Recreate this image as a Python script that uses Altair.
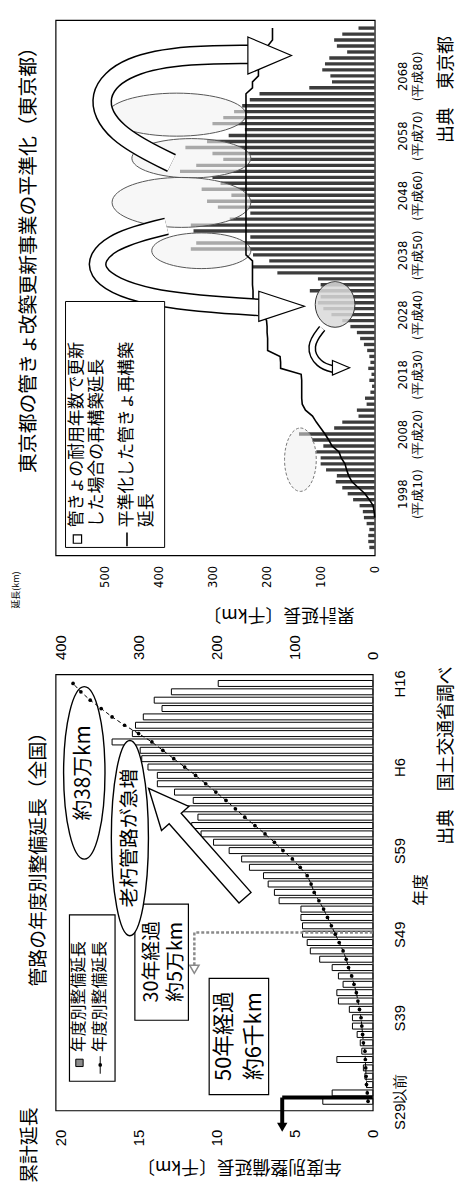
import altair as alt
import pandas as pd

JP = "Noto Sans CJK JP"
NUM = "Liberation Sans"
NARROW = "DejaVu Sans Condensed, Liberation Sans, sans-serif"

# ---------------- national chart data (管路の年度別整備延長) ----------------
nat_years = list(range(1954, 2005))          # 1954 = S29以前 ... 2004 = H16
nat_yearly = [3.2, 2.6, 0.4, 0.5, 0.6, 2.3, 0.7, 0.8, 1.0, 1.3,
              1.3, 1.5, 2.2, 2.3, 1.9, 2.2, 2.6, 3.4, 4.0, 4.2,
              4.5, 4.5, 4.6, 4.6, 6.0, 6.3, 6.7, 7.0, 7.9, 8.4,
              9.2, 10.2, 11.0, 11.6, 11.2, 12.3, 11.5, 12.7, 13.8, 13.8,
              14.4, 14.8, 14.9, 16.7, 15.4, 15.2, 14.7, 13.5, 14.0, 12.9,
              9.9]
nat_cum = [6, 7, 8, 8.5, 9, 9.5, 10, 12, 13, 14,
           15, 17, 19, 21, 24, 27, 31, 34, 38, 43,
           48, 53, 58, 63, 69, 75, 79, 84, 93, 103,
           115, 126, 138, 151, 164, 176, 188, 201, 214, 227,
           241, 255, 269, 283, 300, 318, 334, 348, 362, 374,
           384]
nat_tick_years = [1954, 1964, 1974, 1984, 1994, 2004]
nat_tick_labels = ["S29以前", "S39", "S49", "S59", "H6", "H16"]
nat_value_ticks = [0, 5, 10, 15, 20]
nat_cum_ticks = [0, 100, 200, 300, 400]

# ---------------- Tokyo chart data (管きょ改築更新事業の平準化) ----------------
tk_years = list(range(1989, 2077))
tk_renew = [10, 12, 12, 10, 15, 20, 22, 28, 40, 50,
            60, 72, 70, 90, 100, 100, 108, 95, 116, 140,
            75, 60, 30, 33, 15, 18, 8, 5, 10, 6,
            12, 8, 10, 14, 20, 27, 33, 45, 60, 80,
            95, 105, 100, 120, 100, 105, 180, 225, 195, 225,
            340, 330, 230, 335, 340, 268, 230, 290, 310, 265,
            320, 285, 300, 360, 330, 280, 300, 350, 310, 270,
            240, 300, 280, 260, 245, 231, 213, 121, 79, 82,
            97, 92, 84, 51, 70, 75, 60, 30]
tk_line_years = list(range(1994, 2077))
tk_line = [0, 1, 3, 10, 18, 30, 42, 48, 52, 55,
           62, 66, 79, 85, 92, 100, 108, 115, 128, 134,
           135, 135, 135, 135, 136, 174, 174, 175, 198, 198,
           198, 199, 199, 200, 207, 225, 225, 225, 225, 226,
           226, 226, 226, 226, 238, 238, 238, 238, 238, 238,
           238, 238, 238, 238, 238, 238, 238, 238, 238, 238,
           238, 238, 238, 238, 238, 238, 238, 238, 238, 238,
           238, 238, 226, 226, 215, 215, 207, 207, 198, 198,
           189, 189, 189]
tk_tick_years = [1998, 2008, 2018, 2028, 2038, 2048, 2058, 2068]
tk_tick_line1 = ["1998", "2008", "2018", "2028", "2038", "2048", "2058", "2068"]
tk_tick_line2 = ["(平成10)", "(平成20)", "(平成30)", "(平成40)", "(平成50)",
                 "(平成60)", "(平成70)", "(平成80)"]
tk_value_ticks = [0, 100, 200, 300, 400, 500]

assert len(nat_yearly) == len(nat_years) == len(nat_cum)
assert len(tk_renew) == len(tk_years)
assert len(tk_line) == len(tk_line_years)

# symbol paths (unit box -1..1)
K = 0.5523


def ellipse_path(rx, ry=1.0):
    kx, ky = K * rx, K * ry
    return (f"M0,-{ry} C{kx:.3f},-{ry} {rx},-{ky:.3f} {rx},0 C{rx},{ky:.3f} {kx:.3f},{ry} 0,{ry} "
            f"C-{kx:.3f},{ry} -{rx},{ky:.3f} -{rx},0 C-{rx},-{ky:.3f} -{kx:.3f},-{ry} 0,-{ry} Z")


ARROW = "M0,-1 L0.25,-0.45 L0.11,-0.45 L0.11,1 L-0.11,1 L-0.11,-0.45 L-0.25,-0.45 Z"
HEAD_R = "M-1,-0.85 L1,0 L-1,0.85 Z"
HEAD_R2 = "M-1,-0.66 L1,0 L-1,0.66 Z"

# ---------------- scales & axes ----------------
NAT_W, NAT_H = 320, 440
TK_W, TK_H = 322, 540
nat_x = alt.Scale(domain=[0, 20.32], reverse=True, nice=False, zero=True)
nat_x2 = alt.Scale(domain=[0, 406.4], reverse=True, nice=False, zero=True)
nat_y = alt.Scale(domain=[1953.5, 2004.5], nice=False, zero=False)
tk_x = alt.Scale(domain=[0, 590], reverse=True, nice=False, zero=True)
tk_y = alt.Scale(domain=[1988.5, 2076.5], nice=False, zero=False)

tk_label_expr = ("[" + ",".join(f"['{a}','{b}']" for a, b in zip(tk_tick_line1, tk_tick_line2))
                 + "][indexof([" + ",".join(str(v) for v in tk_tick_years) + "], datum.value)]")
nat_label_expr = ("[" + ",".join(f"'{l}'" for l in nat_tick_labels) + "][indexof(["
                  + ",".join(str(v) for v in nat_tick_years) + "], datum.value)]")

tk_x_axis = alt.Axis(orient="bottom", values=tk_value_ticks, labelAngle=270, labelAlign="right",
                     labelBaseline="middle", labelPadding=10, ticks=False, grid=False, domain=False,
                     labelFont=NARROW, labelFontSize=13, labelColor="black", labelFlush=False,
                     labelOverlap=False, title=None)
tk_y_axis = alt.Axis(orient="right", values=tk_tick_years, labelExpr=tk_label_expr, labelAngle=270,
                     labelAlign="center", labelBaseline="top", labelPadding=22, ticks=False,
                     grid=False, domain=False, labelFont=NARROW, labelFontSize=13,
                     labelLineHeight=15, labelColor="black", labelFlush=False,
                     labelOverlap=False, title=None)
nat_x_axis = alt.Axis(orient="bottom", values=nat_value_ticks, labelAngle=270, labelAlign="right",
                      labelBaseline="middle", labelPadding=19, ticks=False, grid=False, domain=False,
                      labelFont=NUM, labelFontSize=15, labelColor="black", labelFlush=False,
                      labelOverlap=False, title="年度別整備延長〔千km〕", titleAngle=180,
                      titleAlign="center", titleBaseline="middle", titleX=185, titleY=56,
                      titleFont=JP, titleFontSize=18, titleFontWeight="normal", titleColor="black")
nat_x2_axis = alt.Axis(orient="top", values=nat_cum_ticks, labelAngle=270, labelAlign="left",
                       labelBaseline="middle", labelPadding=15, ticks=False, grid=False, domain=False,
                       labelFont=NUM, labelFontSize=15, labelColor="black", labelFlush=False,
                       labelOverlap=False, title="累計延長〔千km〕", titleAngle=180,
                       titleAlign="center", titleBaseline="middle", titleX=225, titleY=-61,
                       titleFont=JP, titleFontSize=18, titleFontWeight="normal", titleColor="black")
nat_y_axis = alt.Axis(orient="right", values=nat_tick_years, labelExpr=nat_label_expr, labelAngle=270,
                      labelAlign="center", labelBaseline="top", labelPadding=20, ticks=False,
                      grid=False, domain=False, labelFont=NUM, labelFontSize=15, labelColor="black",
                      labelFlush=False, labelOverlap=False, title="年度", titleAngle=270,
                      titleAlign="center", titleBaseline="middle", titleX=48, titleY=217,
                      titleFont=JP, titleFontSize=16, titleFontWeight="normal", titleColor="black")


def nx(f):
    return alt.X(f, type="quantitative", scale=nat_x, axis=nat_x_axis)


def ny(f):
    return alt.Y(f, type="quantitative", scale=nat_y, axis=nat_y_axis)


def tx(f):
    return alt.X(f, type="quantitative", scale=tk_x, axis=tk_x_axis)


def ty(f):
    return alt.Y(f, type="quantitative", scale=tk_y, axis=tk_y_axis)


def label(text, px, py, size, chart_font=JP):
    return alt.Chart(pd.DataFrame({"t": [text]})).mark_text(
        angle=270, align="center", baseline="middle", font=chart_font, fontSize=size, color="black").encode(
        x=alt.value(px), y=alt.value(py), text="t:N")


def hollow_curve(xs, ys, width):
    """A hollow (outlined) curved band through the given annotation points (Tokyo data space)."""
    df = pd.DataFrame({"x": xs, "y": ys, "o": list(range(len(xs)))})
    outer = alt.Chart(df).mark_line(interpolate="basis", color="black", strokeWidth=width,
                                    strokeCap="butt").encode(x=tx("x"), y=ty("y"), order="o:Q")
    inner = alt.Chart(df).mark_line(interpolate="basis", color="white", strokeWidth=width - 3,
                                    strokeCap="butt").encode(x=tx("x"), y=ty("y"), order="o:Q")
    return [outer, inner]


# ================= Tokyo panel =================
tk_df = pd.DataFrame({"year": tk_years, "renew": tk_renew})
tk_line_df = pd.DataFrame({"year": tk_line_years, "level": tk_line})

tk_bars = alt.Chart(tk_df).mark_bar(orient="horizontal", size=3.4, fill="#3c3c3c").encode(
    x=tx("renew"), y=ty("year"))

tk_level = alt.Chart(tk_line_df).mark_line(color="black", strokeWidth=1.6).encode(
    x=tx("level"), y=ty("year"), order="year:Q")

# grey ellipses marking the peaks that are shifted
tk_ell = alt.Chart(pd.DataFrame({
    "x": [366.4, 339.0, 357.3, 320.6],
    "y": [2061.5, 2054.2, 2046.8, 2038.7],
    "shape": [ellipse_path(1, 0.31), ellipse_path(1, 0.33), ellipse_path(1, 0.36), ellipse_path(1, 0.36)],
    "size": [19600, 14400, 19600, 10000]})).mark_point(
    filled=True, fill="#f2f2f2", fillOpacity=0.6, stroke="#555555", strokeWidth=1, opacity=1).encode(
    x=tx("x"), y=ty("y"), shape=alt.Shape("shape:N", scale=None), size=alt.Size("size:Q", scale=None))

tk_circle = alt.Chart(pd.DataFrame({"x": [73.3], "y": [2029.7]})).mark_point(
    shape=ellipse_path(0.87, 1.0), size=2116, filled=True, fill="#d9d9d9", fillOpacity=0.85,
    stroke="#333333", strokeWidth=1, opacity=1).encode(x=tx("x"), y=ty("y"))

tk_dash_ell = alt.Chart(pd.DataFrame({"x": [137.4], "y": [2003.7]})).mark_point(
    shape=ellipse_path(0.5, 1.0), size=4096, filled=True, fill="#eeeeee", fillOpacity=0.5,
    stroke="#777777", strokeWidth=1, strokeDash=[3, 2], opacity=1).encode(x=tx("x"), y=ty("y"))

arrow1 = hollow_curve([375.6, 485.5, 518.5, 458.0, 339.0, 229.0],
                      [2053.4, 2058.3, 2064.8, 2070.0, 2071.6, 2071.6], 20)
arrow2 = hollow_curve([384.8, 494.7, 531.3, 430.6, 214.4],
                      [2042.8, 2040.3, 2035.1, 2030.5, 2029.2], 18)
arrow3 = hollow_curve([97.1, 122.8, 104.4, 73.3],
                      [2025.7, 2022.7, 2019.5, 2018.8], 8)

tk_heads = alt.Chart(pd.DataFrame({
    "x": [194.2, 172.2, 62.3], "y": [2071.4, 2029.4, 2019.1],
    "shape": [HEAD_R, HEAD_R2, HEAD_R], "size": [1936, 2116, 300]})).mark_point(
    filled=True, fill="white", stroke="black", strokeWidth=1.2, opacity=1).encode(
    x=tx("x"), y=ty("y"), shape=alt.Shape("shape:N", scale=None), size=alt.Size("size:Q", scale=None))

tk_leg_box = alt.Chart(pd.DataFrame({"x1": [571.6], "x2": [388.4], "y1": [2030.2], "y2": [1989.0]})).mark_rect(
    fill="white", stroke="black", strokeWidth=1).encode(x=tx("x1"), x2="x2", y=ty("y1"), y2="y2")

tk_leg_text = alt.Chart(pd.DataFrame({
    "x": [549.6, 513.0, 458.0, 421.5],
    "y": [1992.4, 1992.4, 1992.4, 1992.4],
    "t": ["管きょの耐用年数で更新", "した場合の再構築延長", "平準化した管きょ再構築", "延長"],
})).mark_text(angle=270, align="left", baseline="middle", font=JP, fontSize=17, color="black").encode(
    x=tx("x"), y=ty("y"), text="t:N")

tk_leg_sq = alt.Chart(pd.DataFrame({"x": [549.6], "y": [1990.4]})).mark_square(
    size=70, filled=True, fill="white", stroke="black", strokeWidth=1.2, opacity=1).encode(x=tx("x"), y=ty("y"))

tk_leg_ln = alt.Chart(pd.DataFrame({"x": [458.0], "y1": [1991.5], "y2": [1989.2]})).mark_rule(
    color="black", strokeWidth=1.6).encode(x=tx("x"), y=ty("y1"), y2="y2")

tokyo = alt.layer(
    tk_bars, tk_ell, tk_circle, tk_dash_ell, tk_level, *arrow1, *arrow2, *arrow3, tk_heads,
    tk_leg_box, tk_leg_text, tk_leg_sq, tk_leg_ln,
    label("出典　東京都", 395, 70, 18),
    label("延長(km)", -40, 575, 9),
    label("東京都の管きょ改築更新事業の平準化（東京都）", -27, 237, 20),
).properties(width=TK_W, height=TK_H)

# ================= National panel =================
nat_df = pd.DataFrame({"year": nat_years, "yearly": nat_yearly, "cum": nat_cum})

nat_bars = alt.Chart(nat_df).mark_bar(orient="horizontal", size=6, fill="white", stroke="black",
                                      strokeWidth=1).encode(x=nx("yearly"), y=ny("year"))

nat_cum_line = alt.Chart(nat_df).mark_line(
    color="black", strokeWidth=1, strokeDash=[4, 3],
    point=alt.OverlayMarkDef(filled=True, size=14, color="black")).encode(
    x=alt.X("cum:Q", scale=nat_x2, axis=nat_x2_axis), y=ny("year"), order="year:Q")

nat_boxes = alt.Chart(pd.DataFrame({
    "x1": [15.24, 10.48, 19.43], "x2": [11.81, 6.67, 16.51],
    "y1": [1977.6, 1968.7, 1976.3], "y2": [1963.7, 1954.8, 1956.4]})).mark_rect(
    fill="white", stroke="black", strokeWidth=1.2).encode(x=nx("x1"), x2="x2", y=ny("y1"), y2="y2")

nat_dash = alt.Chart(pd.DataFrame({
    "x1": [0.0, 11.43], "x2": [11.43, 11.43], "y1": [1974.2, 1974.2], "y2": [1974.2, 1970.2]})).mark_rule(
    color="#8a8a8a", strokeWidth=2.5, strokeDash=[3, 2]).encode(x=nx("x1"), x2="x2", y=ny("y1"), y2="y2")
nat_dash_head = alt.Chart(pd.DataFrame({"x": [11.43], "y": [1969.8]})).mark_point(
    shape="triangle-down", size=90, filled=True, fill="white", stroke="#8a8a8a", strokeWidth=1.5,
    opacity=1).encode(x=nx("x"), y=ny("y"))
nat_thick = alt.Chart(pd.DataFrame({
    "x1": [0.0, 5.8], "x2": [5.8, 5.8], "y1": [1954.45, 1954.45], "y2": [1954.45, 1951.2]})).mark_rule(
    color="black", strokeWidth=4).encode(x=nx("x1"), x2="x2", y=ny("y1"), y2="y2")
nat_thick_head = alt.Chart(pd.DataFrame({"x": [5.8], "y": [1950.9]})).mark_point(
    shape="triangle-down", size=110, filled=True, color="black", opacity=1).encode(x=nx("x"), y=ny("y"))

nat_ell = alt.Chart(pd.DataFrame({
    "x": [18.48, 15.56], "y": [1993.3, 1985.5],
    "shape": [ellipse_path(0.24), ellipse_path(0.19)], "size": [30276, 38809]})).mark_point(
    filled=True, fill="white", stroke="black", strokeWidth=1.4, opacity=1).encode(
    x=nx("x"), y=ny("y"), shape=alt.Shape("shape:N", scale=None), size=alt.Size("size:Q", scale=None))

nat_arrow = alt.Chart(pd.DataFrame({"x": [11.27], "y": [1984.9], "ang": [318.6]})).mark_point(
    shape=ARROW, size=21600, filled=True, fill="white", stroke="black", strokeWidth=1.4, opacity=1).encode(
    x=nx("x"), y=ny("y"), angle=alt.Angle("ang:Q", scale=None))

nat_text = alt.Chart(pd.DataFrame({
    "x": [14.16, 12.57, 9.52, 7.62, 18.48, 15.56],
    "y": [1970.7, 1970.7, 1961.8, 1961.8, 1993.3, 1985.5],
    "t": ["30年経過", "約5万km", "50年経過", "約6千km", "約38万km", "老朽管路が急増"],
    "fs": [20, 20, 22, 22, 21, 20]})).mark_text(
    angle=270, align="center", baseline="middle", font=JP, color="black").encode(
    x=nx("x"), y=ny("y"), text="t:N", size=alt.Size("fs:Q", scale=None))

nat_leg_text = alt.Chart(pd.DataFrame({
    "x": [18.79, 17.46], "y": [1959.9, 1959.9], "t": ["年度別整備延長", "年度別整備延長"]})).mark_text(
    angle=270, align="left", baseline="middle", font=JP, fontSize=16, color="black").encode(
    x=nx("x"), y=ny("y"), text="t:N")
nat_leg_sq = alt.Chart(pd.DataFrame({"x": [18.79], "y": [1958.6]})).mark_square(
    size=55, filled=True, fill="#8c8c8c", stroke="black", strokeWidth=1, opacity=1).encode(x=nx("x"), y=ny("y"))
nat_leg_ln = alt.Chart(pd.DataFrame({"x": [17.46], "y1": [1959.4], "y2": [1957.3]})).mark_rule(
    color="black", strokeWidth=1).encode(x=nx("x"), y=ny("y1"), y2="y2")
nat_leg_pt = alt.Chart(pd.DataFrame({"x": [17.46], "y": [1958.35]})).mark_point(
    shape="circle", size=14, filled=True, color="black", opacity=1).encode(x=nx("x"), y=ny("y"))

nat_inner = alt.layer(
    nat_bars, nat_dash, nat_dash_head, nat_thick, nat_thick_head, nat_boxes,
    nat_arrow, nat_ell, nat_text, nat_leg_text, nat_leg_sq, nat_leg_ln, nat_leg_pt,
    label("出典　国土交通省調べ", 395, 82, 18),
    label("累計延長", -26, 475, 19),
    label("管路の年度別整備延長（全国）", -17, 182, 19),
)

national = alt.layer(nat_inner, nat_cum_line).resolve_scale(x="independent").properties(
    width=NAT_W, height=NAT_H)

chart = alt.vconcat(tokyo, national, spacing=120, bounds="flush").properties(
    padding={"left": 3, "top": 0, "right": 0, "bottom": 0},
    background="white",
).configure_view(stroke="black", strokeWidth=1.2).configure_axis(labelColor="black")

chart.save("out.html", embed_options={"renderer": "svg", "actions": False})
